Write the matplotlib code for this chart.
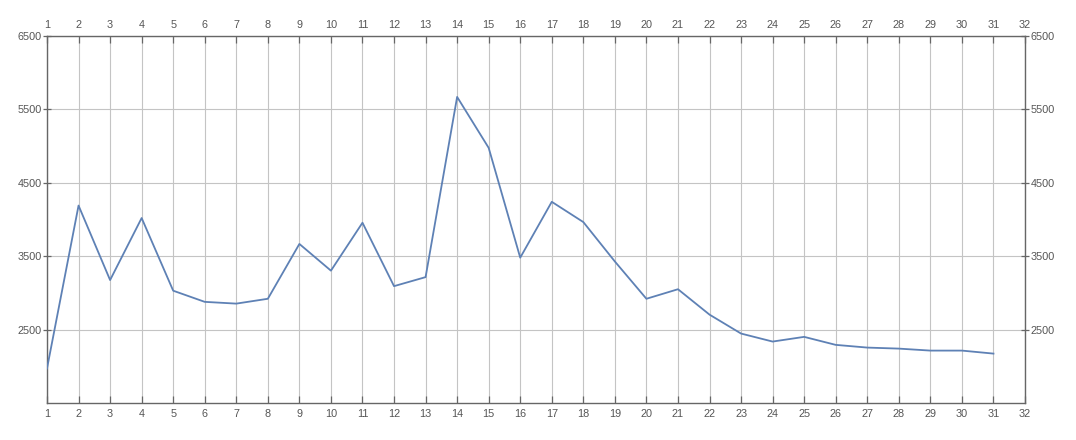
import numpy as np
import matplotlib.pyplot as plt

# values, one per x position 1..31
xs = np.arange(1, 32)
vals = [1970, 4190, 3175, 4020, 3030, 2878, 2854, 2920, 3667, 3303,
        3956, 3092, 3215, 5670, 4976, 3480, 4241, 3965, 3428, 2920,
        3050, 2704, 2446, 2337, 2401, 2292, 2255, 2241, 2214, 2214, 2173]

xticks = list(range(1, 33))
yticks = [2500, 3500, 4500, 5500, 6500]

plt.rcParams['font.family'] = ['Liberation Sans', 'DejaVu Sans']

fig = plt.figure(figsize=(10.76, 4.4), dpi=100)
ax = fig.add_axes([47/1076, 1-403/440, 978/1076, 367/440])

ax.plot(xs, vals, color='#5e81b5', lw=1.3, zorder=3)

ax.set_xlim(1, 32)
ax.set_ylim(1500, 6500)
ax.set_xticks(xticks)
ax.set_yticks(yticks)
ax.grid(True, color='#c4c4c4', lw=0.8)

for s in ax.spines.values():
    s.set_color('#666666')
    s.set_linewidth(1.0)

ax.tick_params(axis='x', direction='in', length=5, width=0.9, color='#666666',
               top=True, labeltop=True, bottom=True, labelbottom=True,
               labelsize=7.8, labelcolor='#555555', pad=4)
ax.tick_params(axis='y', direction='inout', length=6, width=0.9, color='#666666',
               left=True, right=True, labelleft=True, labelright=True,
               labelsize=7.8, labelcolor='#555555', pad=1)

fig.savefig('out.png', dpi=100)
